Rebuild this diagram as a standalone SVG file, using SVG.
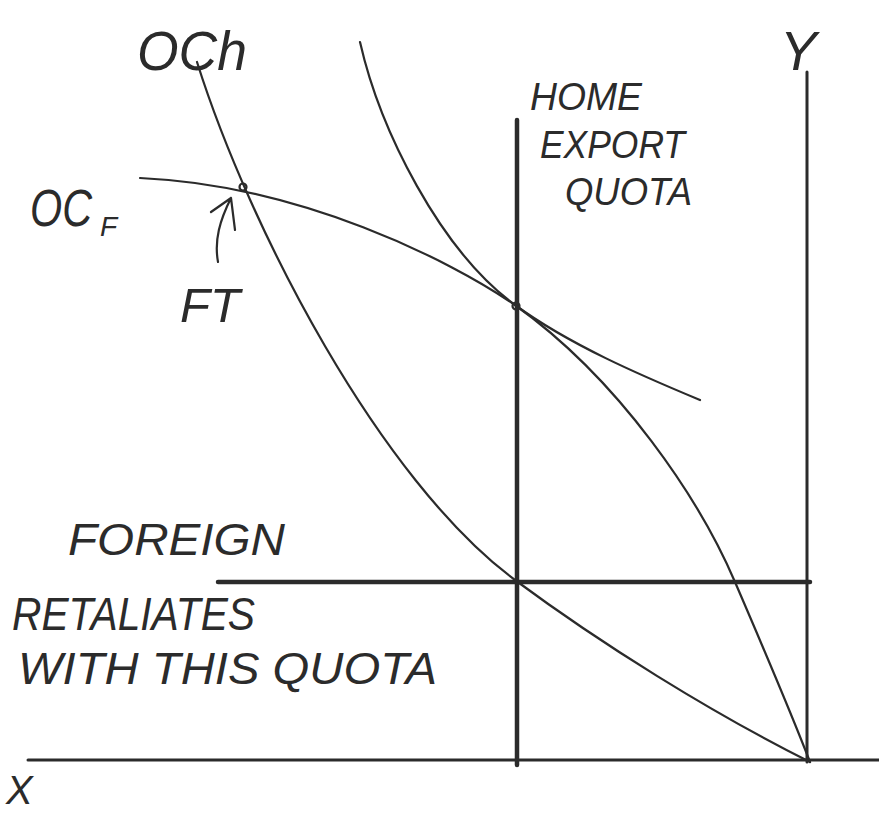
<svg xmlns="http://www.w3.org/2000/svg" width="879" height="817" viewBox="0 0 879 817">
<style>
.ln{fill:none;stroke:#2b2b2b;stroke-linecap:round;stroke-linejoin:round}
.thin{stroke-width:2.2}
.axis{stroke-width:3}
.thick{stroke-width:4.5}
.t{font-family:"Liberation Sans","DejaVu Sans",sans-serif;fill:#2b2b2b;font-style:italic}
</style>
<rect width="879" height="817" fill="#ffffff"/>
<g id="connectors">
<path id="x-axis" class="ln axis" d="M28,760 L879,760"/>
<path id="y-axis" class="ln axis" d="M807,72 L807,762"/>
<path id="home-export-quota" class="ln thick" d="M517,120 L517,765"/>
<path id="foreign-quota" class="ln thick" d="M218,582 L810,582"/>
<path id="och" class="ln thin" d="M197,62 C250,230 380,480 515,580 C600,643 710,712 810,762"/>
<path id="ocf" class="ln thin" d="M140,178 C300,185 450,260 515,305 C620,380 700,500 735,582 C760,640 790,710 810,762"/>
<path id="indifference" class="ln thin" d="M360,42 C380,130 440,250 515,305 C570,345 640,375 700,400"/>
<path id="ft-arrow" class="ln thin" d="M218,262 C214,240 220,220 231,198 M211,212 L231,198 L235,230"/>
<circle cx="243" cy="187" r="3.5" class="ln thin"/>
<circle cx="516" cy="306" r="3.5" class="ln thin"/>
</g>
<g id="label-och"><text class="t" x="137" y="70" font-size="55" textLength="110" lengthAdjust="spacingAndGlyphs">OCh</text></g>
<g id="label-ocf">
<text class="t" x="30" y="226" font-size="52" textLength="62" lengthAdjust="spacingAndGlyphs">OC</text>
<text class="t" x="100" y="236" font-size="28">F</text>
</g>
<g id="label-ft"><text class="t" x="180" y="322" font-size="48" textLength="60" lengthAdjust="spacingAndGlyphs">FT</text></g>
<g id="label-home">
<text class="t" x="530" y="110" font-size="38" textLength="112" lengthAdjust="spacingAndGlyphs">HOME</text>
<text class="t" x="540" y="158" font-size="38" textLength="145" lengthAdjust="spacingAndGlyphs">EXPORT</text>
<text class="t" x="565" y="205" font-size="38" textLength="127" lengthAdjust="spacingAndGlyphs">QUOTA</text>
</g>
<g id="label-y"><text class="t" x="780" y="70" font-size="55">Y</text></g>
<g id="label-foreign">
<text class="t" x="68" y="555" font-size="44" textLength="217" lengthAdjust="spacingAndGlyphs">FOREIGN</text>
<text class="t" x="12" y="630" font-size="46" textLength="243" lengthAdjust="spacingAndGlyphs">RETALIATES</text>
<text class="t" x="18" y="684" font-size="44" textLength="419" lengthAdjust="spacingAndGlyphs">WITH THIS QUOTA</text>
</g>
<g id="label-x"><text class="t" x="6" y="804" font-size="40">X</text></g>
</svg>
